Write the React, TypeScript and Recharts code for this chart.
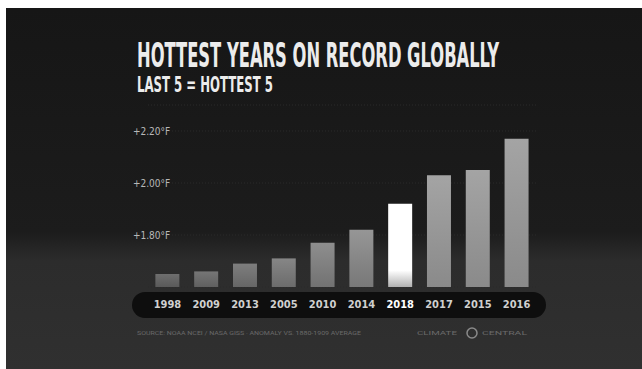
import React from 'react';
import { BarChart, Bar, XAxis, YAxis, CartesianGrid, Cell } from 'recharts';

const years = ['1998', '2009', '2013', '2005', '2010', '2014', '2018', '2017', '2015', '2016'];
const anomalies = [1.65, 1.66, 1.69, 1.71, 1.77, 1.82, 1.92, 2.03, 2.05, 2.17];
const yTicks = [1.8, 2.0, 2.2];
const yTickLabels = ['+1.80°F', '+2.00°F', '+2.20°F'];
const highlightYear = '2018';

const W = 636;
const H = 361;

const data = years.map((year, i) => ({ year, value: anomalies[i] }));

const YTick = (props: any) => {
    const i = yTicks.indexOf(props.payload.value);
    return (
        <text x={127} y={props.y} dy={4} fill="#b8b8b8" fontSize={10} fontFamily="DejaVu Sans Condensed, Roboto, sans-serif">
            {yTickLabels[i] ?? ''}
        </text>
    );
};

const XTick = (props: any) => {
    const hot = props.payload.value === highlightYear;
    return (
        <text x={props.x} y={300} textAnchor="middle" fill={hot ? '#ffffff' : '#d0d0d0'} fontSize={11} fontWeight="bold" fontFamily="DejaVu Sans Condensed, Roboto, sans-serif">
            {props.payload.value}
        </text>
    );
};

export default function App() {
    const barFill = (year: string, i: number) => {
        if (year === highlightYear) return 'url(#hotGrad)';
        return i < 6 ? `url(#grayGrad${i})` : 'url(#lightGrad)';
    };

    return (
        <div style={{ position: 'fixed', left: 6, top: 8, width: W, height: H, background: '#141414', overflow: 'hidden' }}>
            {/* backdrop */}
            <svg width={W} height={H} style={{ position: 'absolute', left: 0, top: 0 }}>
                <defs>
                    <linearGradient id="bgGrad" x1="0" y1="0" x2="0" y2="1">
                        <stop offset="0%" stopColor="#161616" />
                        <stop offset="62%" stopColor="#1c1c1c" />
                        <stop offset="70%" stopColor="#2c2c2c" />
                        <stop offset="100%" stopColor="#303030" />
                    </linearGradient>
                </defs>
                <rect x={0} y={0} width={W} height={H} fill="url(#bgGrad)" />
                <rect x={126} y={284} width={414} height={26} rx={13} fill="#0e0e0e" />
            </svg>

            <div style={{ position: 'absolute', left: 0, top: 0 }}>
                <BarChart width={W} height={H} data={data} margin={{ top: 97, right: 106, bottom: 52, left: 102 }} barCategoryGap="19%">
                    <defs>
                        {[0, 1, 2, 3, 4, 5].map((i) => (
                            <linearGradient key={i} id={`grayGrad${i}`} x1="0" y1="0" x2="0" y2="1">
                                <stop offset="0%" stopColor={`rgb(${110 + i * 8},${110 + i * 8},${110 + i * 8})`} />
                                <stop offset="100%" stopColor={`rgb(${90 + i * 6},${90 + i * 6},${90 + i * 6})`} />
                            </linearGradient>
                        ))}
                        <linearGradient id="lightGrad" x1="0" y1="0" x2="0" y2="1">
                            <stop offset="0%" stopColor="#a4a4a4" />
                            <stop offset="100%" stopColor="#8a8a8a" />
                        </linearGradient>
                        <linearGradient id="hotGrad" x1="0" y1="0" x2="0" y2="1">
                            <stop offset="0%" stopColor="#ffffff" />
                            <stop offset="80%" stopColor="#ffffff" />
                            <stop offset="100%" stopColor="#b0b0b0" />
                        </linearGradient>
                    </defs>
                    <CartesianGrid horizontal vertical={false} stroke="#2a2a2a" strokeDasharray="1 2" />
                    <XAxis dataKey="year" axisLine={false} tickLine={false} height={30} tick={<XTick />} interval={0} />
                    <YAxis domain={[1.6, 2.3]} ticks={yTicks} axisLine={false} tickLine={false} width={40} tick={<YTick />} allowDataOverflow />
                    <Bar dataKey="value" isAnimationActive={false}>
                        {data.map((d, i) => (
                            <Cell key={d.year} fill={barFill(d.year, i)} />
                        ))}
                    </Bar>
                </BarChart>
            </div>

            {/* titles and footer */}
            <svg width={W} height={H} style={{ position: 'absolute', left: 0, top: 0, pointerEvents: 'none' }}>
                <text x={131} y={59} fill="#ececec" fontSize={33} fontWeight="bold" fontFamily="DejaVu Sans Condensed, sans-serif" textLength={362} lengthAdjust="spacingAndGlyphs">
                    HOTTEST YEARS ON RECORD GLOBALLY
                </text>
                <text x={131} y={84} fill="#ececec" fontSize={21} fontWeight="bold" fontFamily="DejaVu Sans Condensed, sans-serif" textLength={136} lengthAdjust="spacingAndGlyphs">
                    LAST 5 = HOTTEST 5
                </text>
                <text x={131} y={327} fill="#6a6a6a" fontSize={6} fontFamily="Roboto, sans-serif" textLength={224} lengthAdjust="spacingAndGlyphs">
                    SOURCE: NOAA NCEI / NASA GISS · ANOMALY VS. 1880-1909 AVERAGE
                </text>
                <text x={411} y={327} fill="#6a6a6a" fontSize={6} fontFamily="Roboto, sans-serif" textLength={40} lengthAdjust="spacingAndGlyphs">
                    CLIMATE
                </text>
                <circle cx={466} cy={325} r={5} fill="none" stroke="#8a8a8a" strokeWidth={1.5} />
                <text x={476} y={327} fill="#6a6a6a" fontSize={6} fontFamily="Roboto, sans-serif" textLength={45} lengthAdjust="spacingAndGlyphs">
                    CENTRAL
                </text>
            </svg>
        </div>
    );
}
